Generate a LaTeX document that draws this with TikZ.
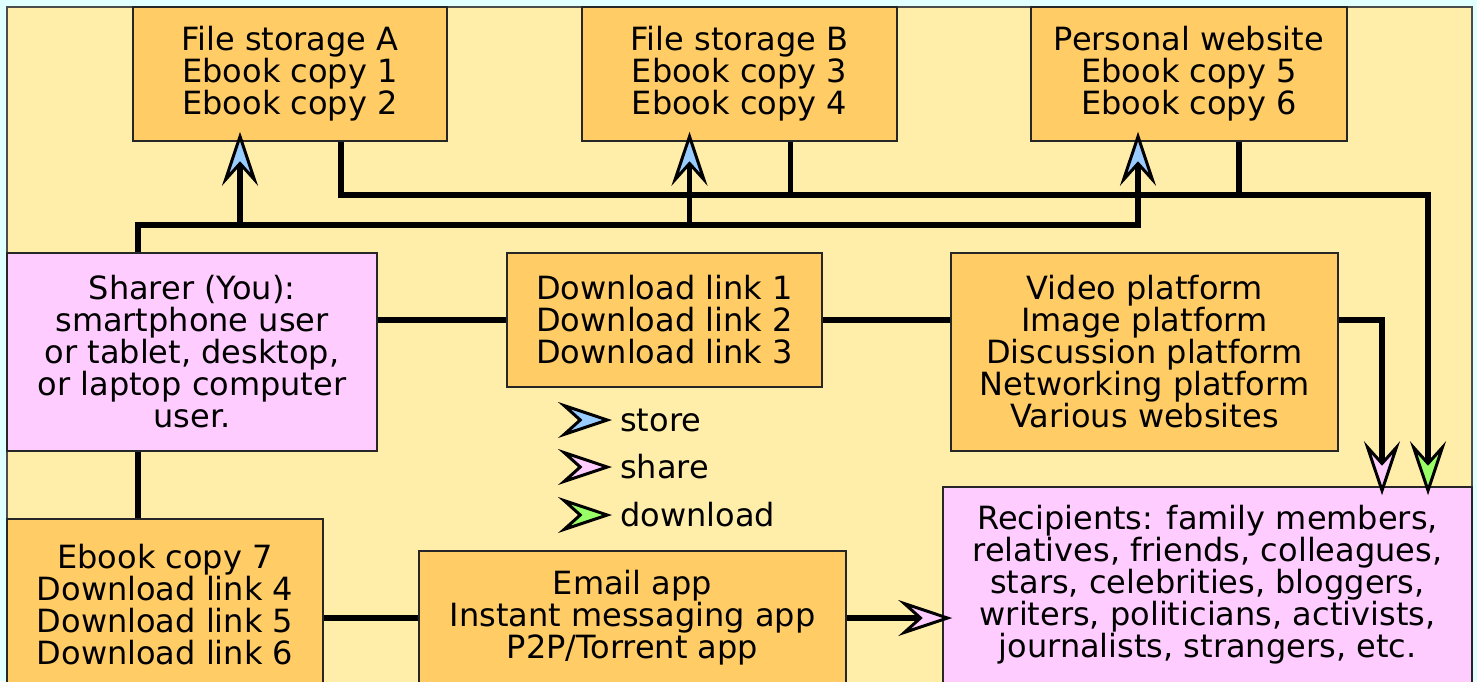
\documentclass[tikz,border=0pt]{standalone}
\usepackage{fontspec}
\setmainfont{DejaVu Sans}
\usetikzlibrary{arrows.meta}

\definecolor{bgcyan}{HTML}{E0FFFF}
\definecolor{panelyellow}{HTML}{FFEEAA}
\definecolor{boxorange}{HTML}{FFCC66}
\definecolor{boxpink}{HTML}{FFCCFF}
\definecolor{tipblue}{HTML}{99CCFF}
\definecolor{tippink}{HTML}{FFCCFF}
\definecolor{tipgreen}{HTML}{99FF66}

\begin{document}
\begin{tikzpicture}[x=1pt,y=-1pt,
    every node/.style={font=\fontsize{32}{32}\selectfont,align=center,inner sep=0pt},
    box/.style={rectangle,draw=black!85,line width=1.5pt,fill=boxorange},
    pinkbox/.style={box,fill=boxpink},
    wire/.style={line width=5.5pt},
    tipshape/.style={-{Stealth[length=54pt,width=36pt,inset=20pt,line width'=3pt,fill=#1]}},
    storearrow/.style={wire,tipshape=tipblue},
    sharearrow/.style={wire,tipshape=tippink},
    loadarrow/.style={wire,tipshape=tipgreen},
    legendarrow/.style={line width=0.2pt,tipshape=#1}]

  \useasboundingbox (0,0) rectangle (1477,681);
  \clip (0,0) rectangle (1477,681);
  \fill[bgcyan] (0,0) rectangle (1477,681);
  \draw[fill=panelyellow,draw=black!70,line width=1.5pt] (7,7) rectangle (1472,700);

  % storage places
  \node[box,minimum width=314,minimum height=134] (fileA) at (290,74) {File storage A\\Ebook copy 1\\Ebook copy 2};
  \node[box,minimum width=315,minimum height=134] (fileB) at (739.5,74) {File storage B\\Ebook copy 3\\Ebook copy 4};
  \node[box,minimum width=316,minimum height=134] (site) at (1189,74) {Personal website\\Ebook copy 5\\Ebook copy 6};

  % middle row
  \node[pinkbox,minimum width=370,minimum height=198] (sharer) at (192,352) {Sharer (You):\\smartphone user\\or tablet, desktop,\\or laptop computer\\user.};
  \node[box,minimum width=315,minimum height=134] (links) at (664.5,320) {Download link 1\\Download link 2\\Download link 3};
  \node[box,minimum width=387,minimum height=198] (platforms) at (1144.5,352) {Video platform\\Image platform\\Discussion platform\\Networking platform\\Various websites};

  % bottom row
  \node[box,minimum width=316,minimum height=171] (copy7) at (165,604.5) {Ebook copy 7\\Download link 4\\Download link 5\\Download link 6};
  \node[box,minimum width=427,minimum height=134] (apps) at (632.5,618) {Email app\\Instant messaging app\\P2P/Torrent app};
  \node[pinkbox,minimum width=529,minimum height=196] (recip) at (1207.5,585) {Recipients: family members,\\relatives, friends, colleagues,\\stars, celebrities, bloggers,\\writers, politicians, activists,\\journalists, strangers, etc.};

  % legend
  \node[anchor=west] (lgstore) at (620,420) {store};
  \node[anchor=west] (lgshare) at (620,467) {share};
  \node[anchor=west] (lgload) at (620,515) {download};

  % helper points
  \coordinate (up) at (138,225);
  \coordinate (back) at (1428,195);
  \coordinate (turn) at (1382,320);
  \coordinate (aIn) at ([xshift=-50,yshift=10]fileA.south);
  \coordinate (bIn) at ([xshift=-50,yshift=10]fileB.south);
  \coordinate (siteIn) at ([xshift=-51,yshift=10]site.south);
  \coordinate (aOut) at ([xshift=51]fileA.south);
  \coordinate (bOut) at ([xshift=51]fileB.south);
  \coordinate (siteOut) at ([xshift=50]site.south);
  \coordinate (recipTop) at ([yshift=-9]recip.north);
  \coordinate (recipLeft) at ([xshift=10]recip.west);

  % store
  \draw[storearrow] (sharer.north -| up) -- (up) -| (siteIn);
  \draw[storearrow] (up -| aIn) -- (aIn);
  \draw[storearrow] (up -| bIn) -- (bIn);

  % download
  \draw[wire] (bOut) -- (bOut |- back);
  \draw[wire] (siteOut) -- (siteOut |- back);
  \draw[loadarrow] (aOut) |- (back) -- (back |- recipTop);

  % share
  \draw[wire] (sharer.east |- links.west) -- (links.west);
  \draw[wire] (links.east) -- (platforms.west |- links.east);
  \draw[sharearrow] (platforms.east |- turn) -- (turn) -- (turn |- recipTop);
  \draw[wire] (sharer.south -| up) -- (copy7.north -| up);
  \draw[wire] (copy7.east |- apps.west) -- (apps.west);
  \draw[sharearrow] (apps.east) -- (recipLeft |- apps.east);

  \draw[legendarrow=tipblue] ([xshift=-41]lgstore.west) -- ([xshift=-8]lgstore.west);
  \draw[legendarrow=tippink] ([xshift=-41]lgshare.west) -- ([xshift=-8]lgshare.west);
  \draw[legendarrow=tipgreen] ([xshift=-41]lgload.west) -- ([xshift=-8]lgload.west);
\end{tikzpicture}
\end{document}
